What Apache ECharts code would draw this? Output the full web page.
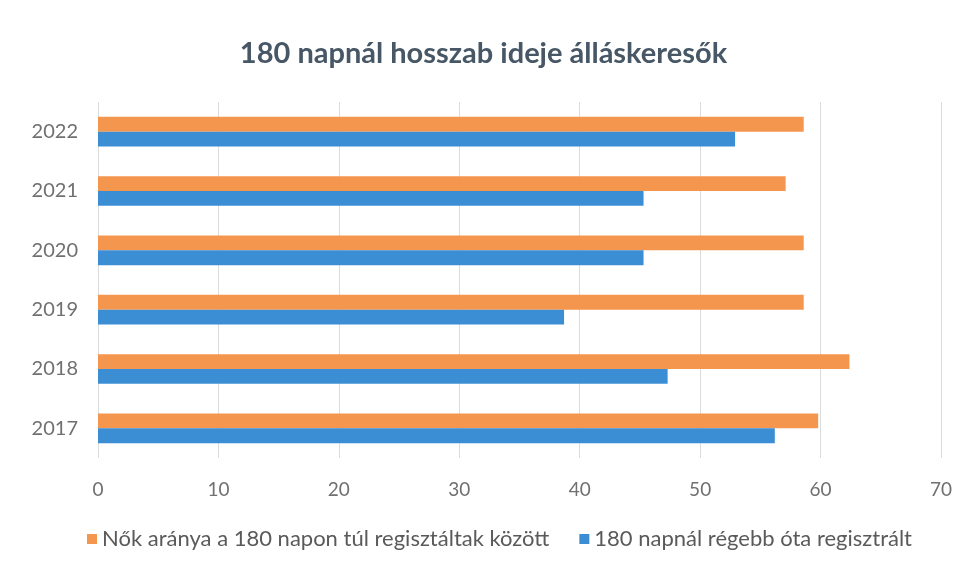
<!DOCTYPE html>
<html><head><meta charset="utf-8">
<script src="https://cdn.jsdelivr.net/npm/echarts@6/dist/echarts.min.js"></script>
<style>html,body{margin:0;padding:0;background:#fff}#c{width:967px;height:569px}</style>
</head><body><div id="c"></div>
<script>
const categories = ['2017','2018','2019','2020','2021','2022'];
const seriesNames = ['Nők aránya a 180 napon túl regisztáltak között', '180 napnál régebb óta regisztrált'];
const womenShare = [59.8, 62.4, 58.6, 58.6, 57.1, 58.6];
const longTerm = [56.2, 47.3, 38.7, 45.3, 45.3, 52.9];
const xTicks = [0, 10, 20, 30, 40, 50, 60, 70];

const FONT = 'Lato,"Open Sans",sans-serif';
const chart = echarts.init(document.getElementById('c'));
chart.setOption({
  animation: false,
  title: {
    text: '180 napnál hosszab ideje álláskeresők',
    left: 'center', top: 34,
    textStyle: { fontFamily: FONT, fontSize: 29, fontWeight: 'bold', color: '#475766' }
  },
  legend: {
    data: seriesNames,
    bottom: 14, left: 82,
    itemWidth: 10, itemHeight: 10, itemGap: 30, icon: 'rect',
    textStyle: { fontFamily: FONT, fontSize: 22, color: '#5a5a5a' }
  },
  grid: { left: 98, right: 26, top: 102, bottom: 111 },
  xAxis: {
    type: 'value', min: xTicks[0], max: xTicks[xTicks.length-1], interval: 10,
    axisLine: { show: false }, axisTick: { show: false },
    axisLabel: { fontFamily: FONT, fontSize: 19, color: '#707070', margin: 22 },
    splitLine: { lineStyle: { color: '#dcdcdc', width: 1 } }
  },
  yAxis: {
    type: 'category', data: categories,
    axisLine: { show: false }, axisTick: { show: false },
    axisLabel: { fontFamily: FONT, fontSize: 20, color: '#707070', margin: 20 }
  },
  series: [
    { name: seriesNames[0], type: 'bar', data: womenShare, itemStyle: { color: '#F5964F' }, barGap: '0%', barCategoryGap: '50%' },
    { name: seriesNames[1], type: 'bar', data: longTerm, itemStyle: { color: '#3B8ED4' }, barGap: '0%', barCategoryGap: '50%' }
  ]
});
</script></body></html>
